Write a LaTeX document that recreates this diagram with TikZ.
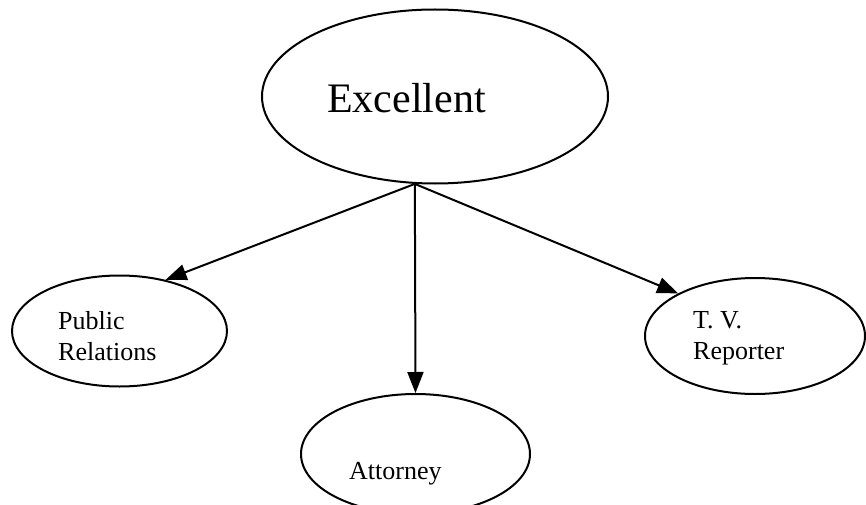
\documentclass[tikz,border=0pt]{standalone}
\usepackage{fontspec}
\setmainfont{Liberation Serif}
\usetikzlibrary{shapes.geometric,arrows.meta}
\begin{document}
\begin{tikzpicture}[x=1pt,y=-1pt,
  oval/.style={draw=black,line width=2pt,ellipse,inner sep=0pt},
  label/.style={inner sep=0pt,anchor=base west,align=left},
  conn/.style={line width=2pt,-{Triangle[length=21pt,width=16pt]}}]
\useasboundingbox[fill=white] (0,0) rectangle (866,505);
\node[oval,minimum width=346pt,minimum height=174pt] (top) at (435,96.5) {};
\node[oval,minimum width=215pt,minimum height=111pt] (pr) at (119.5,331) {};
\node[oval,minimum width=229pt,minimum height=120pt] (att) at (415.5,454) {};
\node[oval,minimum width=220pt,minimum height=116pt] (tv) at (755,336) {};
\node[label,font=\fontsize{42}{50}\selectfont] (excl) at (327,113) {Excellent};
\node[label,font=\fontsize{26}{31}\selectfont] (prt) at (58,360) {Public\\Relations};
\node[label,font=\fontsize{26}{31}\selectfont] (tvt) at (693,359) {T. V.\\Reporter};
\node[label,font=\fontsize{26}{31}\selectfont] (attt) at (349,479) {Attorney};
\coordinate (hub) at (top.257.6);
\draw[conn] (hub) -- (pr.48);
\draw[conn] (hub) -- (att.north);
\draw[conn] (hub) -- (tv.151);
\end{tikzpicture}
\end{document}
